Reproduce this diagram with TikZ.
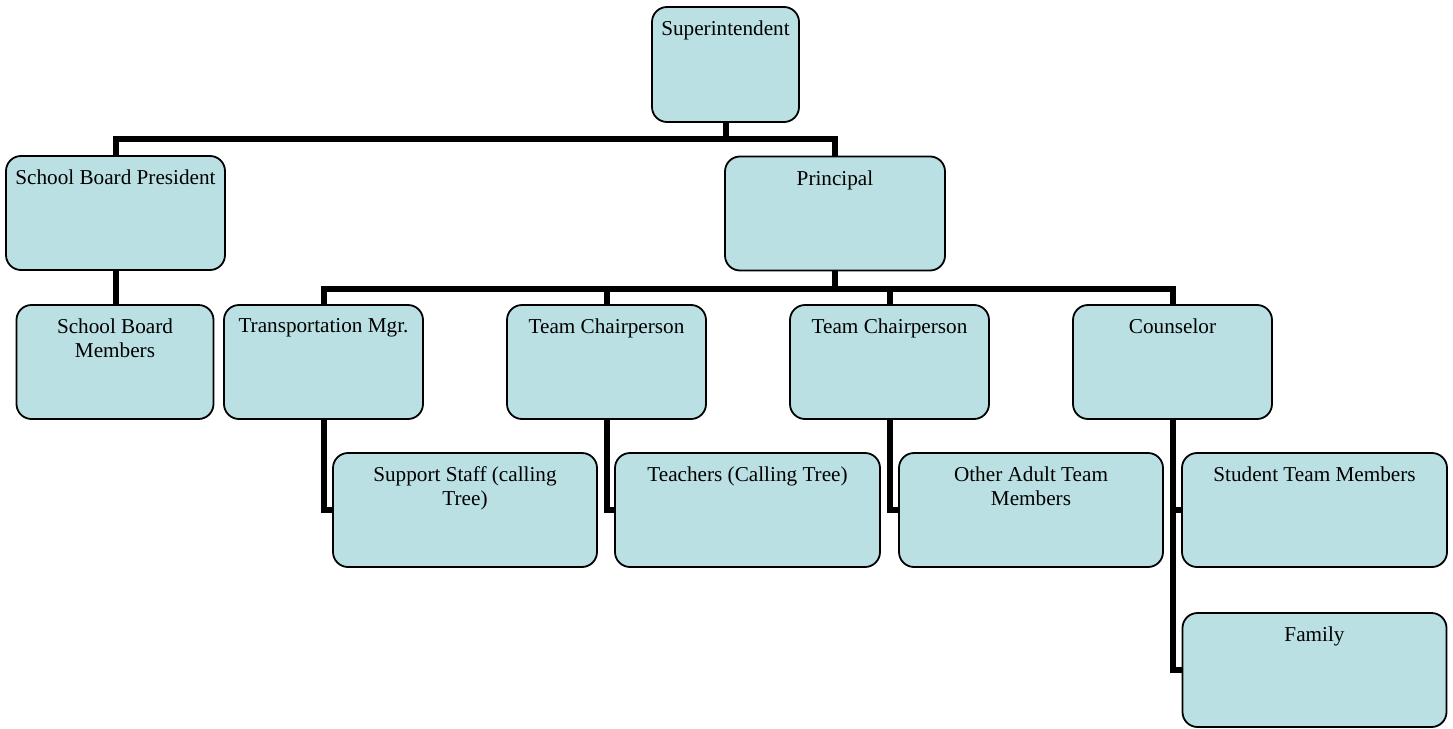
\documentclass[tikz,border=0pt]{standalone}
\usepackage{fontspec}
\setmainfont{Liberation Serif}
\usetikzlibrary{calc}
\pgfdeclarelayer{background}
\pgfsetlayers{background,main}
\definecolor{boxfill}{RGB}{186,224,227}
\tikzset{
  orgbox/.style={draw=black, line width=1.8pt, fill=boxfill, rounded corners=15pt,
    inner sep=0pt, minimum height=114pt},
  conn/.style={draw=black, line width=6pt},
  txt/.style={anchor=north, yshift=-14.5pt, inner sep=0pt, align=center,
    font=\fontsize{21.2}{24}\selectfont, text=black},
  boxlabel/.style={label={[txt]north:#1}}
}
\begin{document}
\begin{tikzpicture}[x=1pt,y=-1pt]
\useasboundingbox (0,0) rectangle (1453,728);
% level 0
\node[orgbox, minimum width=147pt, minimum height=115pt, boxlabel={Superintendent}] (super) at (725.5,64.5) {};
% level 1
\node[orgbox, minimum width=219pt, boxlabel={School Board President}] (sbp) at (115.5,213) {};
\node[orgbox, minimum width=220pt, boxlabel={Principal}] (prin) at (835,213.5) {};
% level 2
\node[orgbox, minimum width=197pt, boxlabel={School Board\\Members}] (sbm) at (115,362) {};
\node[orgbox, minimum width=199pt, boxlabel={Transportation Mgr.}] (trans) at (323.5,362) {};
\node[orgbox, minimum width=199pt, boxlabel={Team Chairperson}] (tca) at (606.5,362) {};
\node[orgbox, minimum width=199pt, boxlabel={Team Chairperson}] (tcb) at (889.5,362) {};
\node[orgbox, minimum width=199pt, boxlabel={Counselor}] (couns) at (1172.5,362) {};
% level 3
\node[orgbox, minimum width=264pt, boxlabel={Support Staff (calling\\Tree)}] (support) at (465,510) {};
\node[orgbox, minimum width=265pt, boxlabel={Teachers (Calling Tree)}] (teach) at (747.5,510) {};
\node[orgbox, minimum width=264pt, boxlabel={Other Adult Team\\Members}] (other) at (1031,510) {};
\node[orgbox, minimum width=265pt, boxlabel={Student Team Members}] (student) at (1314.5,510) {};
\node[orgbox, minimum width=264pt, boxlabel={Family}] (family) at (1314.5,670) {};
% connectors
\begin{pgfonlayer}{background}
\draw[conn] (super.south) -- ($(super.south)+(0,16.5)$);
\draw[conn] (sbp.north) |- ($(super.south)+(0,16.5)$) -| (prin.north);
\draw[conn] (sbp.south) -- (sbp.south |- sbm.north);
\draw[conn] (prin.south) -- ($(prin.south)+(0,18)$);
\draw[conn] (trans.north) |- ($(prin.south)+(0,18)$) -| (couns.north);
\draw[conn] ($(prin.south)+(0,18)$) -| (tca.north);
\draw[conn] ($(prin.south)+(0,18)$) -| (tcb.north);
\draw[conn] (trans.south) |- (support.west);
\draw[conn] (tca.south) |- (teach.west);
\draw[conn] (tcb.south) |- (other.west);
\draw[conn] (couns.south) |- (student.west);
\draw[conn] (couns.south) |- (family.west);
\end{pgfonlayer}
\end{tikzpicture}
\end{document}
